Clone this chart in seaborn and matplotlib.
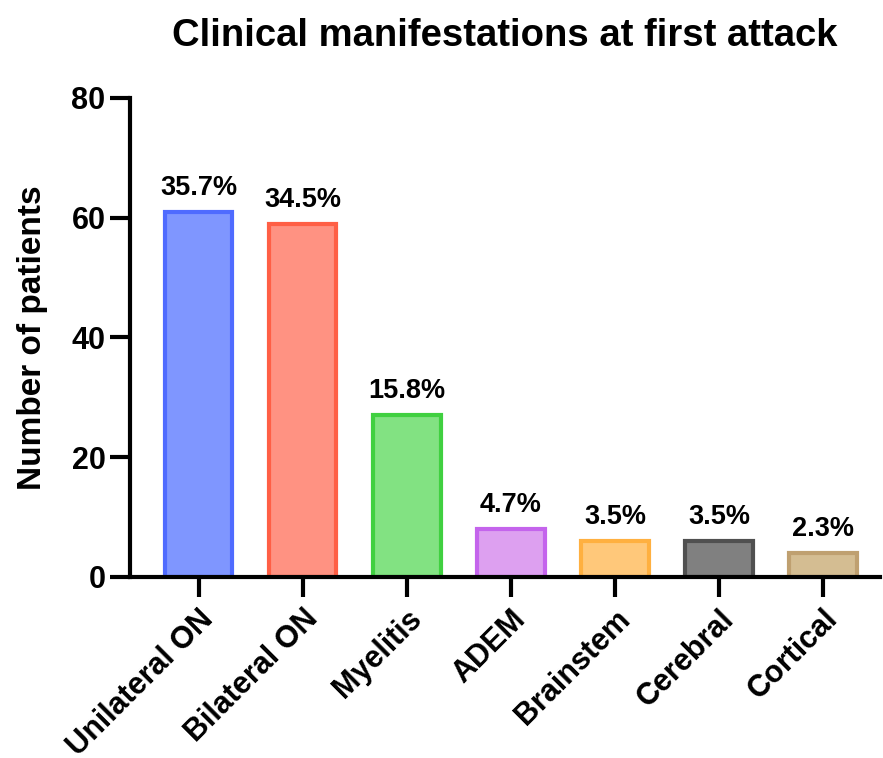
import pandas as pd
import seaborn as sns
import matplotlib.pyplot as plt

# data
categorias = ['Unilateral ON', 'Bilateral ON', 'Myelitis', 'ADEM', 'Brainstem', 'Cerebral', 'Cortical']
pacientes = [61, 59, 27, 8, 6, 6, 4]
porcentajes = ['35.7%', '34.5%', '15.8%', '4.7%', '3.5%', '3.5%', '2.3%']

relleno = ['#7F96FF', '#FF9282', '#82E282', '#DDA0F0', '#FFC87A', '#808080', '#D4BD92']
borde = ['#4F6BFF', '#FF5F45', '#40D040', '#C464EC', '#FFB040', '#505050', '#BFA070']

df = pd.DataFrame({'cat': categorias, 'n': pacientes})

sns.set_style('white')
plt.rcParams['font.family'] = ['Liberation Sans', 'DejaVu Sans']
plt.rcParams['font.weight'] = 'bold'
plt.rcParams['text.color'] = 'black'
plt.rcParams['axes.labelcolor'] = 'black'
plt.rcParams['xtick.color'] = 'black'
plt.rcParams['ytick.color'] = 'black'

fig = plt.figure(figsize=(8.83, 7.58), dpi=100)
ax = fig.add_axes([0.147, 0.239, 0.850, 0.632])

sns.barplot(data=df, x='cat', y='n', hue='cat', palette=relleno, legend=False,
            width=0.65, saturation=1, ax=ax)

for barra, c in zip(ax.patches, borde):
    barra.set_edgecolor(c)
    barra.set_linewidth(3)

for i, (v, t) in enumerate(zip(pacientes, porcentajes)):
    ax.text(i, v + 1.8, t, ha='center', va='bottom', fontsize=19.5, fontweight='bold', color='black')

ax.set_ylim(0, 80)
ax.set_xlim(-0.66, 6.55)
ax.set_yticks([0, 20, 40, 60, 80])
ax.set_xlabel('')
ax.set_ylabel('Number of patients', fontsize=24, fontweight='bold', labelpad=17)
ax.set_title('Clinical manifestations at first attack', fontsize=27.5, fontweight='bold',
             pad=37, color='black')

sns.despine(ax=ax)
for s in ['left', 'bottom']:
    ax.spines[s].set_linewidth(3)
    ax.spines[s].set_color('black')
ax.tick_params(axis='y', direction='out', length=14.5, width=3, labelsize=22, left=True, pad=3)
ax.tick_params(axis='x', direction='out', length=14.5, width=3, labelsize=22, bottom=True, pad=5)
plt.setp(ax.get_xticklabels(), rotation=45, ha='right', rotation_mode='anchor', fontweight='bold')
plt.setp(ax.get_yticklabels(), fontweight='bold')

fig.savefig('out.png', dpi=100)
